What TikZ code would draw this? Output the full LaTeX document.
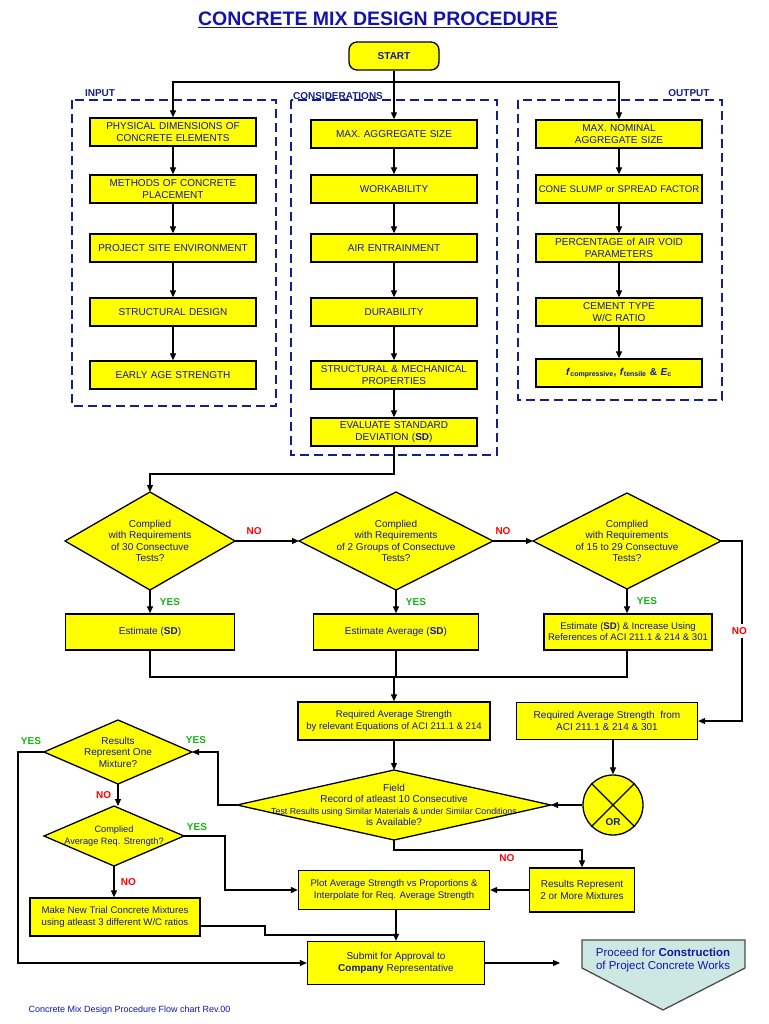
\documentclass[tikz,border=0pt]{standalone}
\usepackage{fontspec}
\setmainfont{Liberation Sans}
\usetikzlibrary{shapes.geometric,arrows.meta}
\definecolor{tb}{RGB}{20,20,170}
\definecolor{db}{RGB}{20,30,140}
\definecolor{yel}{RGB}{255,255,0}
\definecolor{cy}{RGB}{205,232,226}
\definecolor{gr}{RGB}{20,180,20}
\newcommand{\dmd}[6]{%
  \draw[fill=yel,line width=1.3pt] (#2-#4/2,#3) -- (#2,#3-#5/2) -- (#2+#4/2,#3) -- (#2,#3+#5/2) -- cycle;
  \coordinate (#1-w) at (#2-#4/2,#3);
  \coordinate (#1-e) at (#2+#4/2,#3);
  \coordinate (#1-n) at (#2,#3-#5/2);
  \coordinate (#1-s) at (#2,#3+#5/2);
  \node[text=tb,align=center,inner sep=0pt] (#1) at (#2,#3) {#6};}
\begin{document}
\begin{tikzpicture}[x=1pt,y=-1pt,
  font=\fontsize{10}{11.5}\selectfont,
  box/.style={draw,fill=yel,line width=1.3pt,text=tb,align=center,inner sep=1pt},
  ar/.style={-{Triangle[length=7pt,width=6pt]},line width=1.2pt},
  ln/.style={line width=1.2pt},
  grp/.style={draw=db,line width=1.3pt,dash pattern=on 9pt off 5pt},
  lab/.style={text=db,font=\fontsize{10}{11}\selectfont\bfseries},
  yes/.style={text=gr,font=\fontsize{10}{11}\selectfont\bfseries},
  no/.style={text=red,font=\fontsize{10}{11}\selectfont\bfseries}]
\useasboundingbox (0,0) rectangle (768,1024);
\node[text=tb,font=\fontsize{19.5}{21}\selectfont\bfseries] (title) at (378,20) {\underline{CONCRETE MIX DESIGN PROCEDURE}};
\node[box,rounded corners=8pt,minimum width=90,minimum height=28,font=\fontsize{10}{11}\selectfont\bfseries] (start) at (394,56) {START};
\draw[grp] (72,100) rectangle (276,406);
\draw[grp] (291,100) rectangle (497,455);
\draw[grp] (518,100) rectangle (722,400);
\node[lab] (linp) at (100,93) {INPUT};
\node[lab] (lcon) at (338,96) {CONSIDERATIONS};
\node[lab] (lout) at (689,93) {OUTPUT};
\tikzset{bi/.style={box,minimum width=166,minimum height=28,text width=162}}
\node[bi] (i1) at (173,132) {PHYSICAL DIMENSIONS OF\\CONCRETE ELEMENTS};
\node[bi] (i2) at (173,189) {METHODS OF CONCRETE\\PLACEMENT};
\node[bi] (i3) at (173,248) {PROJECT SITE ENVIRONMENT};
\node[bi] (i4) at (173,312) {STRUCTURAL DESIGN};
\node[bi] (i5) at (173,375) {EARLY AGE STRENGTH};
\node[bi] (c1) at (394,134) {MAX. AGGREGATE SIZE};
\node[bi] (c2) at (394,189) {WORKABILITY};
\node[bi] (c3) at (394,248) {AIR ENTRAINMENT};
\node[bi] (c4) at (394,312) {DURABILITY};
\node[bi] (c5) at (394,375) {STRUCTURAL \& MECHANICAL\\PROPERTIES};
\node[bi] (c6) at (394,432) {EVALUATE STANDARD\\DEVIATION (\textbf{SD})};
\node[bi] (o1) at (619,134) {MAX. NOMINAL\\AGGREGATE SIZE};
\node[bi,font=\fontsize{9.6}{11}\selectfont] (o2) at (619,189) {CONE SLUMP or SPREAD FACTOR};
\node[bi] (o3) at (619,248) {PERCENTAGE of AIR VOID\\PARAMETERS};
\node[bi] (o4) at (619,312) {CEMENT TYPE\\W/C RATIO};
\node[bi] (o5) at (619,373) {\textbf{\textit{f}\textsubscript{compressive}, \textit{f}\textsubscript{tensile} \& \textit{E}\textsubscript{c}}};
\coordinate (sj) at (394,82);
\draw[ln] (start.south) -- (sj);
\draw[ar] (sj) -| (i1.north);
\draw[ar] (sj) -- (c1.north);
\draw[ar] (sj) -| (o1.north);
\foreach \a/\b in {i1/i2,i2/i3,i3/i4,i4/i5,c1/c2,c2/c3,c3/c4,c4/c5,c5/c6,o1/o2,o2/o3,o3/o4,o4/o5}
  \draw[ar] (\a.south) -- (\b.north);
\dmd{d1}{150}{541}{170}{98}{Complied\\with Requirements\\of 30 Consectuve\\Tests?}
\dmd{d2}{396}{541}{194}{98}{Complied\\with Requirements\\of 2 Groups of Consectuve\\Tests?}
\dmd{d3}{627}{541}{188}{96}{Complied\\with Requirements\\of 15 to 29 Consectuve\\Tests?}
\coordinate (t1) at (150,474);
\draw[ar] (c6.south) |- (t1) -- (d1-n);
\draw[ar] (d1-e) -- (d2-w) node[no,pos=0.3,above=2pt] {NO};
\draw[ar] (d2-e) -- (d3-w) node[no,pos=0.25,above=2pt] {NO};
\node[box,minimum width=169,minimum height=36] (e1) at (150,632) {Estimate (\textbf{SD})};
\node[box,minimum width=165,minimum height=36] (e2) at (396,632) {Estimate Average (\textbf{SD})};
\node[box,minimum width=168,minimum height=36,font=\fontsize{9.6}{11}\selectfont] (e3) at (628,632) {Estimate (\textbf{SD}) \& Increase Using\\References of ACI 211.1 \& 214 \& 301};
\draw[ar] (d1-s) -- (e1.north) node[yes,midway,right=6pt] {YES};
\draw[ar] (d2-s) -- (e2.north) node[yes,midway,right=6pt] {YES};
\draw[ar] (d3-s) -- (d3-s|-e3.north) node[yes,midway,right=6pt] {YES};
\node[box,minimum width=192,minimum height=38,font=\fontsize{9.6}{11.5}\selectfont] (r1) at (394,721) {Required Average Strength\\by relevant Equations of ACI 211.1 \& 214};
\node[box,minimum width=181,minimum height=37] (r2) at (607,721) {Required Average Strength\ \ from\\ACI 211.1 \& 214 \& 301};
\coordinate (mj) at (394,677);
\draw[ln] (e1.south) |- (mj);
\draw[ln] (e3.south-|d3-s) |- (mj);
\draw[ln] (e2.south) -- (e2.south|-mj);
\draw[ar] (mj) -- (r1.north);
\coordinate (t2) at (742,541);
\draw[ar] (d3-e) -- (t2) |- (r2.east) node[no,pos=0.25,right=-14pt,fill=white] {NO};
\dmd{fd}{394}{805}{314}{70}{Field\\Record of atleast 10 Consecutive\\{\fontsize{8.8}{10.5}\selectfont Test Results using Similar Materials \& under Similar Conditions}\\is Available?}
\draw[ar] (r1.south) -- (fd-n);
\node[circle,draw,fill=yel,line width=1.3pt,minimum size=60] (or) at (613,805) {};
\draw[line width=1.3pt] (or.north west) -- (or.south east) (or.north east) -- (or.south west);
\node[text=db,font=\fontsize{10}{11}\selectfont\bfseries,fill=yel,inner sep=1pt] (ort) at (613,822) {OR};
\draw[ar] (r2.south-|or.north) -- (or.north);
\draw[ar] (or.west) -- (fd-e);
\dmd{rr}{118}{752}{148}{64}{Results\\Represent One\\Mixture?}
\dmd{ca}{114}{836}{140}{60}{\fontsize{9.2}{11}\selectfont Complied\\\fontsize{9.2}{11}\selectfont Average Req. Strength?}
\coordinate (t3) at (218,805);
\draw[ar] (fd-w) -- (t3) |- (rr-e);
\node[yes] (y1) at (196,740) {YES};
\draw[ar] (rr-s) -- (rr-s|-ca-n) node[no,midway,left=3pt] {NO};
\node[box,minimum width=170,minimum height=38,font=\fontsize{9.6}{11.5}\selectfont] (mk) at (115,917) {Make New Trial Concrete Mixtures\\using atleast 3 different W/C ratios};
\draw[ar] (ca-s) -- (ca-s|-mk.north) node[no,midway,right=3pt] {NO};
\node[box,minimum width=191,minimum height=39,font=\fontsize{9.6}{11.5}\selectfont] (pl) at (394,890) {Plot Average Strength vs Proportions \&\\Interpolate for Req. Average Strength};
\node[box,minimum width=105,minimum height=44] (rm) at (582,890) {Results Represent\\2 or More Mixtures};
\coordinate (t4) at (225,836);
\draw[ar] (ca-e) -- (t4) |- (pl.west);
\node[yes] (y2) at (197,827) {YES};
\coordinate (t5) at (394,850);
\draw[ar] (fd-s) -- (t5) -| (rm.north) node[no,pos=0.3,below=1pt] {NO};
\draw[ar] (rm.west) -- (pl.east);
\node[box,minimum width=177,minimum height=43] (sb) at (396,963) {Submit for Approval to\\\textbf{Company} Representative};
\draw[ar] (pl.south-|sb.north) -- (sb.north);
\coordinate (t6) at (265,926);
\draw[ln] (mk.east|-t6) -- (t6) -- (265,935) -- (396,935);
\coordinate (t7) at (18,752);
\draw[ar] (rr-w) -- (t7) |- (sb.west);
\node[yes] (y3) at (31,741) {YES};
\coordinate (se) at (560,963);
\draw[ar] (sb.east) -- (se);
\draw[draw=black!70,fill=cy,line width=1.3pt] (582,940) -- (745,940) -- (745,968) -- (663,1010) -- (582,968) -- cycle;
\node[text=tb,align=center,font=\fontsize{11.5}{13}\selectfont] (pt) at (663,960) {Proceed for \textbf{Construction}\\of Project Concrete Works};
\node[text=tb,font=\fontsize{9}{10}\selectfont,anchor=west] (ft) at (25,1010) {Concrete Mix Design Procedure Flow chart Rev.00};
\end{tikzpicture}
\end{document}
